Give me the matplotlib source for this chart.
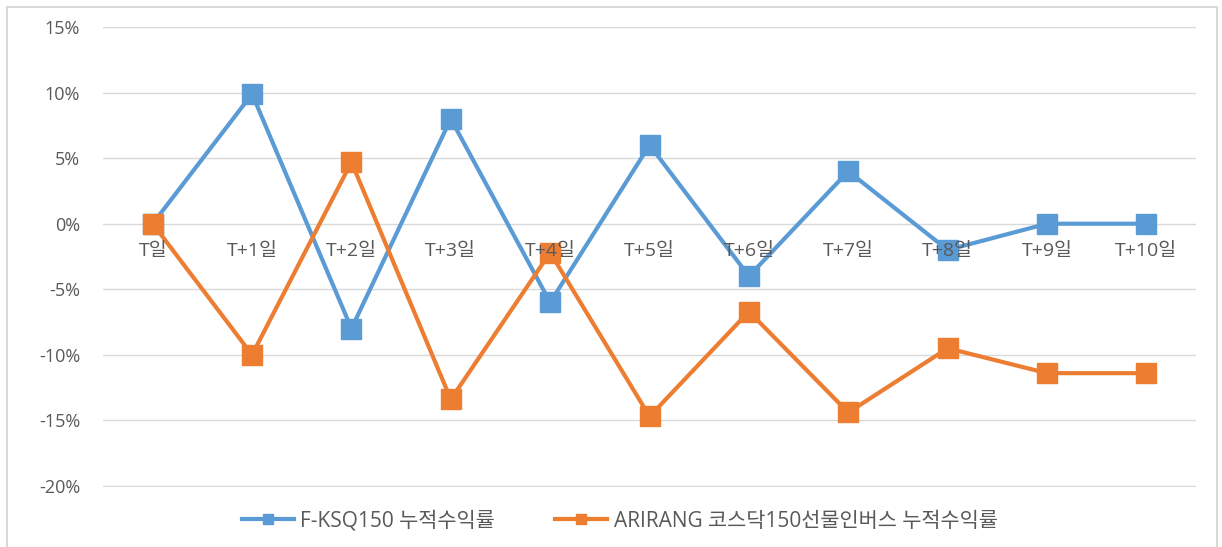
import matplotlib
matplotlib.use("Agg")
import matplotlib.pyplot as plt
from matplotlib.patches import Rectangle
from matplotlib.ticker import FuncFormatter

plt.rcParams['font.family'] = ['Open Sans', 'Noto Sans CJK KR', 'DejaVu Sans']

days = ["T일", "T+1일", "T+2일", "T+3일", "T+4일", "T+5일",
        "T+6일", "T+7일", "T+8일", "T+9일", "T+10일"]
ksq150 = [0.0, 9.9, -8.0, 8.0, -6.0, 6.0, -4.0, 4.0, -2.0, 0.0, 0.0]
arirang = [0.0, -10.0, 4.7, -13.4, -2.2, -14.7, -6.7, -14.4, -9.5, -11.4, -11.4]

blue = "#5B9BD5"
orange = "#ED7D31"
txt = "#595959"

fig = plt.figure(figsize=(12.22, 5.47), dpi=100)
ax = fig.add_axes([0.0843, 0.1105, 0.8945, 0.840])

x = range(len(days))
ax.plot(x, ksq150, color=blue, lw=3, marker="s", ms=15, mec=blue,
        label="F-KSQ150 누적수익률", zorder=3)
ax.plot(x, arirang, color=orange, lw=3, marker="s", ms=15, mec=orange,
        label="ARIRANG 코스닥150선물인버스 누적수익률", zorder=4)

ax.set_xlim(-0.5, len(days) - 0.5)
ax.set_ylim(-20.05, 15)
ax.set_yticks(range(-20, 16, 5))
ax.yaxis.set_major_formatter(FuncFormatter(lambda v, p: f"{v:.0f}%"))
ax.grid(axis="y", color="#D9D9D9", lw=1)
ax.set_axisbelow(True)
for s in ax.spines.values():
    s.set_visible(False)

# category labels sit under the 0% line, drawn on top of the markers
ax.set_xticks([])
for i, d in enumerate(days):
    ax.annotate(d, (i, 0), xytext=(0, -20), textcoords="offset points",
                ha="center", va="center", fontsize=14, color=txt, zorder=10)
ax.tick_params(axis="y", length=0, pad=16.5, labelsize=13, labelcolor=txt)

leg = fig.legend(*ax.get_legend_handles_labels(), loc="center",
                 bbox_to_anchor=(0.507, 0.0475), ncol=2, frameon=False,
                 fontsize=15, markerscale=0.5, handlelength=2.5,
                 handletextpad=0.3, columnspacing=2.9)
for t in leg.get_texts():
    t.set_color(txt)

fig.patches.append(Rectangle((0.006, -0.01), 0.99, 0.998, transform=fig.transFigure,
                             fill=False, ec="#D9D9D9", lw=1.5))

fig.savefig("out.png", dpi=100)
